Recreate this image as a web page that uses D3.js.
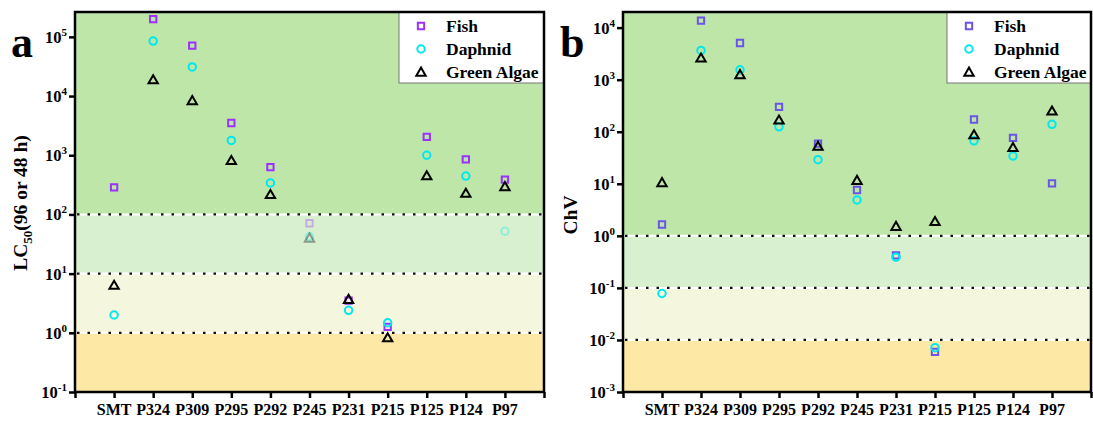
<!DOCTYPE html>
<html>
<head>
<meta charset="utf-8">
<script src="https://cdn.jsdelivr.net/npm/d3@7"></script>
<style>
  body { margin: 0; background: #fff; }
  text { font-family: "Liberation Serif", "Times New Roman", serif; font-weight: bold; }
</style>
</head>
<body>
<svg id="chart" width="1093" height="422"></svg>
<script>
var categories = ['SMT', 'P324', 'P309', 'P295', 'P292', 'P245', 'P231', 'P215', 'P125', 'P124', 'P97'];
var seriesNames = ['Fish', 'Daphnid', 'Green Algae'];

// panel a: LC50 (96 or 48 h)
var lcFish    = [286, 2.0e5, 7.1e4, 3500, 630, 71, 3.5, 1.26, 2040, 850, 388];
var lcDaphnid = [2.0, 8.5e4, 3.1e4, 1780, 340, 42, 2.4, 1.48, 1000, 445, 52];
var lcAlgae   = [6.4, 1.9e4, 8400, 820, 218, 40, 3.7, 0.83, 454, 229, 297];
var lcFaded   = [[5], [5, 10], [5]];   // indices drawn faded, per series

// panel b: ChV
var chvFish    = [1.65, 1.36e4, 5070, 300, 59, 7.6, 0.42, 0.0059, 172, 76, 10.2];
var chvDaphnid = [0.078, 3650, 1550, 124, 29, 4.9, 0.39, 0.0071, 67, 34, 139];
var chvAlgae   = [10.6, 2620, 1260, 169, 53, 11.7, 1.53, 1.9, 88, 50, 252];

var lcBands  = [1e-1, 1, 10, 100];
var chvBands = [1e-3, 1e-2, 1e-1, 1];
var bandColors = ['#fde8a6', '#f4f7dd', '#d9f0d0', '#bfe6a9'];

var svg = d3.select('#chart');

function drawPanel(cfg) {
    var g = svg.append('g');
    var x = d3.scaleLinear().domain([0, categories.length + 1]).range([cfg.left, cfg.right]);
    var y = d3.scaleLog().domain(cfg.domain).range([cfg.bottom, cfg.top]);

    // background bands
    var edges = cfg.bands.concat([cfg.domain[1]]);
    g.selectAll('rect.band').data(cfg.bands).enter().append('rect')
        .attr('class', 'band')
        .attr('x', cfg.left).attr('width', cfg.right - cfg.left)
        .attr('y', function (d, i) { return y(edges[i + 1]); })
        .attr('height', function (d, i) { return y(edges[i]) - y(edges[i + 1]); })
        .attr('fill', function (d, i) { return bandColors[i]; });

    // dotted thresholds
    g.selectAll('line.thr').data(cfg.bands.slice(1)).enter().append('line')
        .attr('x1', cfg.left).attr('x2', cfg.right)
        .attr('y1', function (d) { return y(d); }).attr('y2', function (d) { return y(d); })
        .attr('stroke', '#fff').attr('stroke-width', 2);
    g.selectAll('line.dot').data(cfg.bands.slice(1)).enter().append('line')
        .attr('x1', cfg.left + 2).attr('x2', cfg.right)
        .attr('y1', function (d) { return y(d); }).attr('y2', function (d) { return y(d); })
        .attr('stroke', '#111').attr('stroke-width', 2.2).attr('stroke-dasharray', '2.5,8');

    // legend box
    var lg = g.append('g');
    lg.append('rect').attr('x', cfg.legendX).attr('y', cfg.top)
        .attr('width', cfg.right - cfg.legendX).attr('height', 71)
        .attr('fill', '#fff').attr('stroke', '#777').attr('stroke-width', 1);

    var sym = [d3.symbolSquare, d3.symbolCircle, d3.symbolTriangle];
    var sizes = [40, 44, 38];
    var colors = [cfg.fishColor, '#00e8ee', '#000'];

    seriesNames.forEach(function (name, s) {
        var ly = cfg.top + 14 + s * 23;
        lg.append('path')
            .attr('d', d3.symbol().type(sym[s]).size(sizes[s]))
            .attr('transform', 'translate(' + (cfg.legendX + 22) + ',' + (ly + (s === 2 ? 1 : 0)) + ')')
            .attr('fill', 'none').attr('stroke', colors[s]).attr('stroke-width', 2);
        lg.append('text').attr('x', cfg.legendX + 47).attr('y', ly + 6)
            .style('font-size', '17.5px').text(name);
    });

    // markers
    cfg.series.forEach(function (vals, s) {
        var faded = (cfg.faded && cfg.faded[s]) || [];
        g.append('g').selectAll('path').data(vals).enter().append('path')
            .attr('d', d3.symbol().type(sym[s]).size(sizes[s]))
            .attr('transform', function (d, i) {
                return 'translate(' + x(i + 1) + ',' + (y(d) + (s === 2 ? 1 : 0)) + ')';
            })
            .attr('fill', 'none').attr('stroke', colors[s]).attr('stroke-width', 2)
            .attr('opacity', function (d, i) { return faded.indexOf(i) >= 0 ? 0.35 : 1; });
    });

    // frame
    g.append('rect').attr('x', cfg.left).attr('y', cfg.top)
        .attr('width', cfg.right - cfg.left).attr('height', cfg.bottom - cfg.top)
        .attr('fill', 'none').attr('stroke', '#000').attr('stroke-width', 2.5);

    // y axis
    var exps = d3.range(Math.ceil(Math.log10(cfg.domain[0])), Math.floor(Math.log10(cfg.domain[1])) + 1);
    var yAxis = d3.axisLeft(y).tickValues(exps.map(function (e) { return Math.pow(10, e); }))
        .tickSize(6).tickFormat('');
    var ya = g.append('g').attr('transform', 'translate(' + cfg.left + ',0)').call(yAxis);
    ya.select('.domain').remove();
    ya.selectAll('line').attr('stroke', '#000').attr('stroke-width', 2.5);
    exps.forEach(function (e) {
        var t = g.append('text').attr('x', cfg.left - 8).attr('y', y(Math.pow(10, e)) + 6)
            .attr('text-anchor', 'end').style('font-size', '16.5px');
        t.append('tspan').text('10');
        t.append('tspan').attr('dy', -7).style('font-size', '11px').text(e);
    });

    // x axis
    var xAxis = d3.axisBottom(x).tickValues(d3.range(0, categories.length + 2))
        .tickSize(6).tickFormat('');
    var xa = g.append('g').attr('transform', 'translate(0,' + cfg.bottom + ')').call(xAxis);
    xa.select('.domain').remove();
    xa.selectAll('line').attr('stroke', '#000').attr('stroke-width', 2.5);
    g.selectAll('text.xl').data(categories).enter().append('text')
        .attr('x', function (d, i) { return x(i + 1); }).attr('y', cfg.bottom + 23)
        .attr('text-anchor', 'middle').style('font-size', '16px').text(function (d) { return d; });

    // y title
    var yt = g.append('text').attr('text-anchor', 'middle')
        .attr('transform', 'translate(' + cfg.titleX + ',' + cfg.titleY + ') rotate(-90)')
        .style('font-size', '19.5px');
    cfg.title(yt);

    // panel letter
    g.append('text').attr('x', cfg.letterX).attr('y', 57).style('font-size', '44px').text(cfg.letter);
}

drawPanel({
    left: 75, right: 544, top: 12, bottom: 392,
    domain: [1e-1, Math.pow(10, 5.42)],
    bands: lcBands,
    series: [lcFish, lcDaphnid, lcAlgae],
    faded: lcFaded,
    fishColor: '#9b30ff',
    legendX: 399,
    titleX: 27, titleY: 203,
    title: function (t) {
        t.append('tspan').text('LC');
        t.append('tspan').attr('dy', 5).style('font-size', '13px').text('50');
        t.append('tspan').attr('dy', -5).text('(96 or 48 h)');
    },
    letter: 'a', letterX: 11
});

drawPanel({
    left: 623, right: 1091, top: 12, bottom: 392,
    domain: [1e-3, Math.pow(10, 4.3)],
    bands: chvBands,
    series: [chvFish, chvDaphnid, chvAlgae],
    fishColor: '#6a55e6',
    legendX: 947,
    titleX: 577, titleY: 215,
    title: function (t) { t.text('ChV'); },
    letter: 'b', letterX: 560
});
</script>
</body>
</html>
